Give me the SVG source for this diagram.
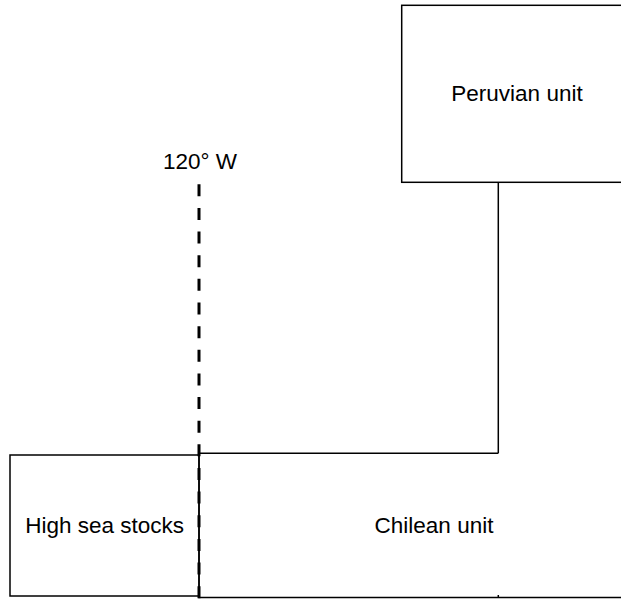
<svg xmlns="http://www.w3.org/2000/svg" width="621" height="599" viewBox="0 0 621 599">
<style>
.box{fill:none;stroke:#000;stroke-width:1.5}
.lbl{font-family:"Liberation Sans",Arial,sans-serif;font-size:22.5px;fill:#000;text-anchor:middle}
.dash{stroke:#000;stroke-width:3;stroke-dasharray:12 11.64;fill:none}
</style>
<rect x="0" y="0" width="621" height="599" fill="#fff"/>
<g id="peruvian">
<rect class="box" x="401.7" y="5.3" width="240" height="177"/>
<text class="lbl" x="517" y="101">Peruvian unit</text>
</g>
<g id="high-sea">
<rect class="box" x="10" y="455" width="189" height="141"/>
<text class="lbl" x="104.7" y="533.3">High sea stocks</text>
</g>
<g id="chilean">
<path class="box" d="M640 597.5 H199 V453.3 H498.3"/>
<line class="box" x1="498.3" y1="597.5" x2="498.3" y2="595"/>
<text class="lbl" x="434" y="533.3">Chilean unit</text>
</g>
<g id="meridian">
<text class="lbl" x="200" y="169">120° W</text>
</g>
<g id="connectors">
<line class="box" x1="498.3" y1="182.3" x2="498.3" y2="453.3"/>
<line class="dash" x1="199" y1="184.3" x2="199" y2="599"/>
</g>
</svg>
